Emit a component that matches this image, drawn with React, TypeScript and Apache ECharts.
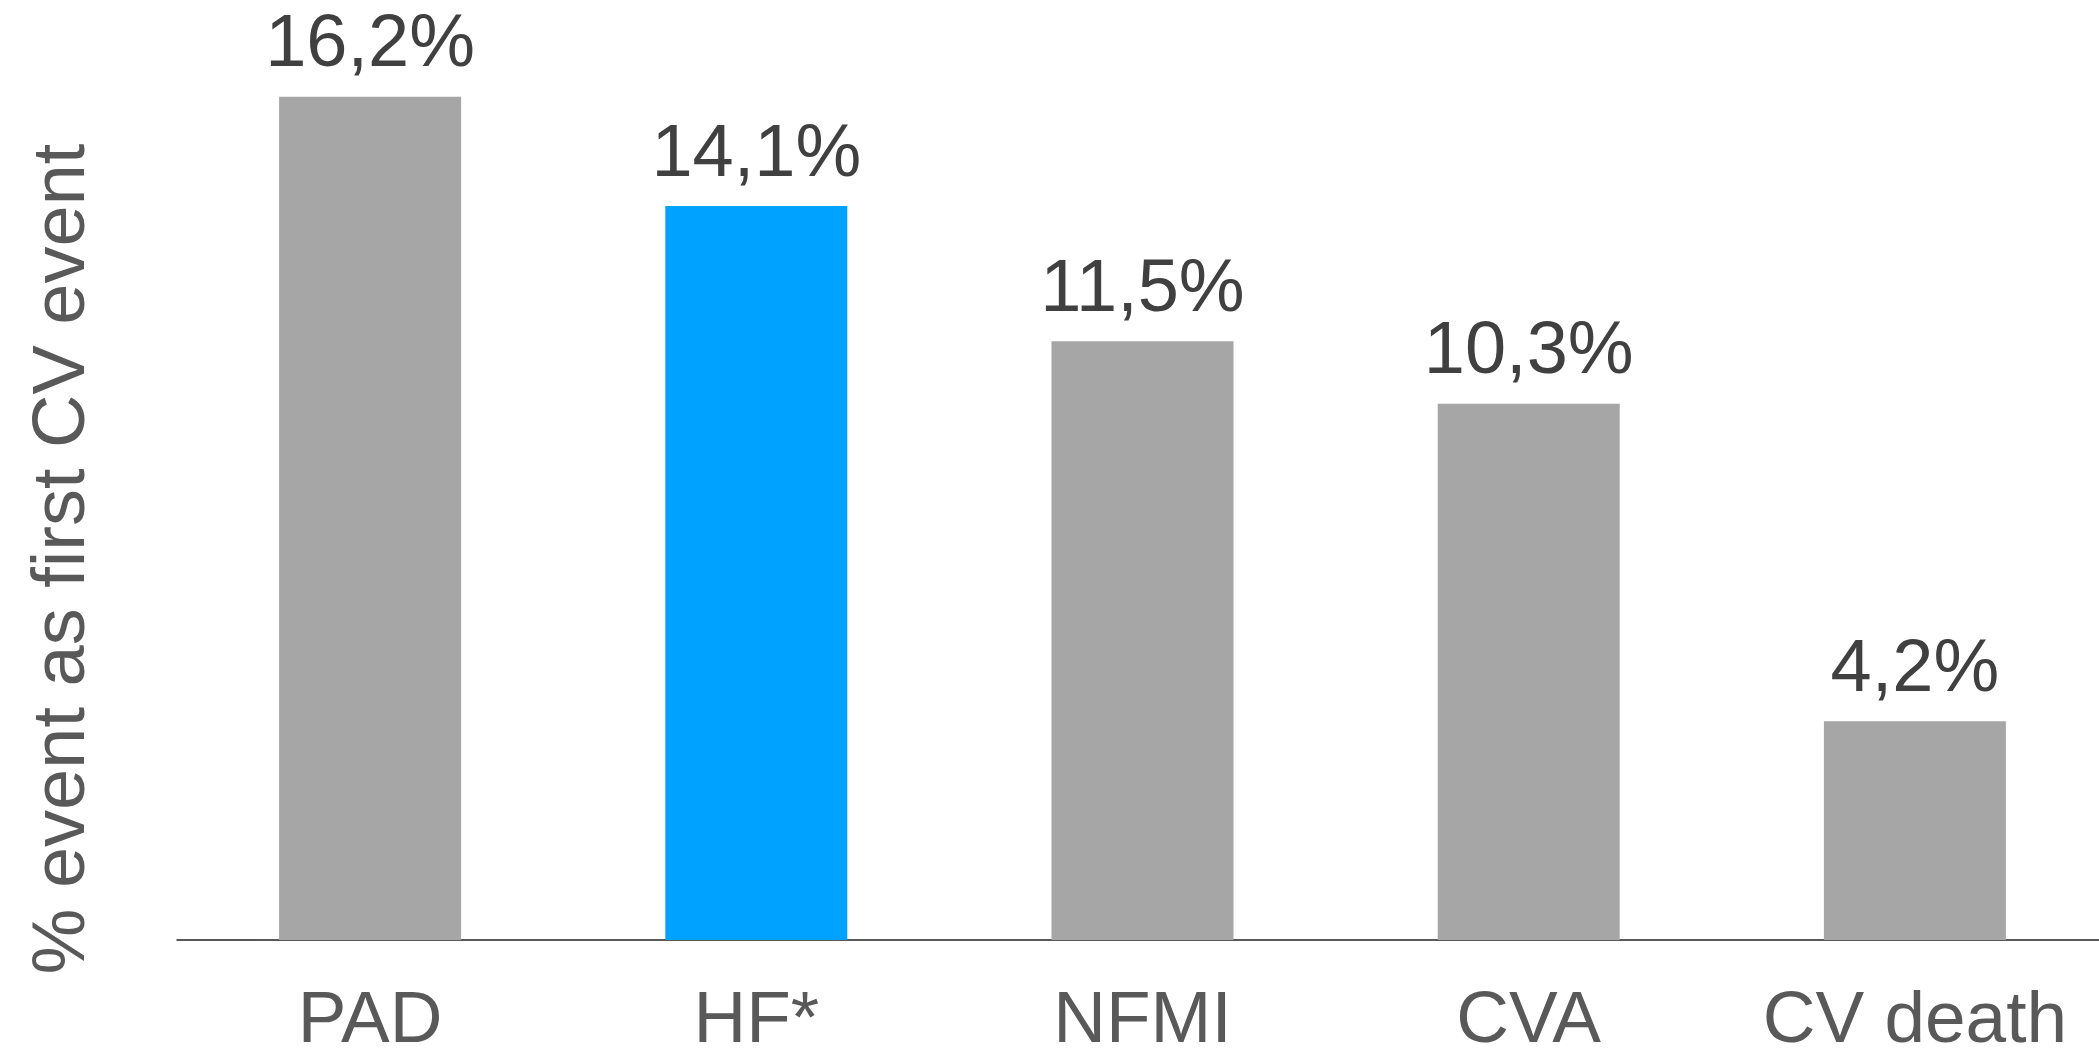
import React, { useEffect, useRef } from "react";
import * as echarts from "echarts";

const categories = ["PAD", "HF*", "NFMI", "CVA", "CV death"];
const values = [16.2, 14.1, 11.5, 10.3, 4.2];
const valueLabels = ["16,2%", "14,1%", "11,5%", "10,3%", "4,2%"];
const highlightIndex = 1;
const yTitle = "% event as first CV event";

const FONT = "'Liberation Sans', Arial, sans-serif";

export default function App() {
  const ref = useRef<HTMLDivElement>(null);
  useEffect(() => {
    if (!ref.current) return;
    const chart = echarts.init(ref.current, null, { renderer: "svg" });
    chart.setOption({
      animation: false,
      backgroundColor: "#ffffff",
      grid: {
        left: 177,
        width: 1931,
        top: 3,
        bottom: 118,
        containLabel: false,
        outerBoundsMode: "none",
      },
      xAxis: {
        type: "category",
        data: categories,
        axisLine: { show: true, lineStyle: { color: "#222222", width: 1.5 } },
        axisTick: { show: false },
        axisLabel: {
          interval: 0,
          color: "#595959",
          fontSize: 73,
          fontFamily: FONT,
          margin: 40,
        },
      },
      yAxis: {
        type: "value",
        min: 0,
        max: 18,
        show: false,
        splitLine: { show: false },
      },
      series: [
        {
          type: "bar",
          barWidth: 182,
          data: values.map((v, i) => ({
            value: v,
            itemStyle: { color: i === highlightIndex ? "#00A2FF" : "#A6A6A6" },
          })),
          label: {
            show: true,
            position: "top",
            distance: 19,
            color: "#404040",
            fontSize: 74,
            fontFamily: FONT,
            formatter: (p: any) => valueLabels[p.dataIndex],
          },
        },
      ],
      graphic: [
        {
          type: "text",
          x: 58,
          y: 559,
          rotation: Math.PI / 2,
          style: {
            text: yTitle,
            fill: "#595959",
            font: `74px ${FONT}`,
            align: "center",
            verticalAlign: "middle",
          },
        },
      ],
    });
    return () => chart.dispose();
  }, []);
  return <div ref={ref} style={{ width: 2099, height: 1058, position: "absolute", left: 0, top: 0 }} />;
}
